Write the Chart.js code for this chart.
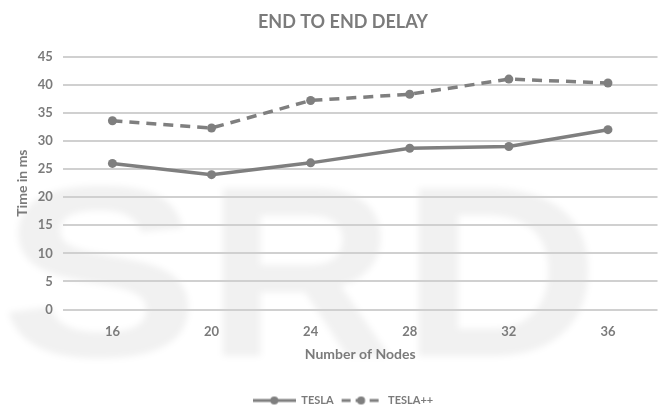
<!DOCTYPE html>
<html>
<head>
<meta charset="utf-8">
<script src="https://cdn.jsdelivr.net/npm/chart.js@4"></script>
<style>
  html, body { margin: 0; padding: 0; background: #ffffff; }
  #wrap { width: 662px; height: 412px; position: relative; }
</style>
</head>
<body>
<div id="wrap"><canvas id="c" width="662" height="412"></canvas></div>
<script>
// Node counts along the x axis
const nodes = ['16', '20', '24', '28', '32', '36'];
// End-to-end delay in ms for each protocol
const tesla = [26, 24, 26.1, 28.7, 29, 32];
const teslaPlus = [33.6, 32.3, 37.2, 38.3, 41, 40.3];
// Y axis range
const yMin = 0, yMax = 45, yStep = 5;

const lineColor = '#7f7f7f';
const textColor = '#7b7b7b';
const gridColor = '#d0d0d0';
const fontFamily = 'Lato, "Open Sans", sans-serif';

// Small line-with-marker swatch for the legend
function swatch(dashed) {
  const cv = document.createElement('canvas');
  cv.width = 43; cv.height = 10;
  const g = cv.getContext('2d');
  g.strokeStyle = lineColor;
  g.fillStyle = lineColor;
  g.lineWidth = 3;
  if (dashed) g.setLineDash([9, 5]);
  g.beginPath(); g.moveTo(dashed ? 2 : 0, 5); g.lineTo(43, 5); g.stroke();
  g.setLineDash([]);
  g.beginPath(); g.arc(21.5, 5, 4, 0, Math.PI * 2); g.fill();
  return cv;
}

// Faint, soft background lettering
const watermark = {
  id: 'watermark',
  beforeDraw(chart) {
    const ctx = chart.ctx;
    const letters = [['S', 0, 200], ['R', 205, 395], ['D', 400, 600]];
    ctx.save();
    ctx.filter = 'blur(3px)';
    ctx.fillStyle = 'rgba(0,0,0,0.055)';
    ctx.font = 'bold 244px "Liberation Sans", sans-serif';
    ctx.textBaseline = 'alphabetic';
    ctx.textAlign = 'left';
    for (const [ch, x0, x1] of letters) {
      const w = ctx.measureText(ch).width;
      ctx.save();
      ctx.translate(x0, 356);
      ctx.scale((x1 - x0) / w, 1);
      ctx.fillText(ch, 0, 0);
      ctx.restore();
    }
    ctx.restore();
  }
};

new Chart(document.getElementById('c'), {
  type: 'line',
  data: {
    labels: nodes,
    datasets: [
      {
        label: 'TESLA',
        data: tesla,
        borderColor: lineColor,
        backgroundColor: lineColor,
        borderWidth: 3.5,
        pointRadius: 4.5,
        pointBackgroundColor: lineColor,
        pointBorderWidth: 0,
        tension: 0,
        fill: false
      },
      {
        label: 'TESLA++',
        data: teslaPlus,
        borderColor: lineColor,
        backgroundColor: lineColor,
        borderWidth: 3.5,
        borderDash: [10, 7],
        pointRadius: 4.5,
        pointBackgroundColor: lineColor,
        pointBorderWidth: 0,
        tension: 0,
        fill: false
      }
    ]
  },
  options: {
    responsive: false,
    animation: false,
    devicePixelRatio: 1,
    layout: { padding: { left: 14, right: -10, top: 6, bottom: -4 } },
    plugins: {
      title: {
        display: true,
        text: 'END TO END DELAY',
        color: textColor,
        font: { family: fontFamily, size: 18, weight: 'bold' },
        padding: { top: 5, bottom: 24 }
      },
      legend: {
        display: true,
        position: 'bottom',
        labels: {
          color: textColor,
          font: { family: fontFamily, size: 11, weight: 'bold' },
          usePointStyle: true,
          pointStyleWidth: 43,
          boxHeight: 10,
          padding: 6,
          generateLabels(chart) {
            return chart.data.datasets.map((ds, i) => ({
              text: ds.label,
              pointStyle: swatch(!!ds.borderDash),
              fillStyle: lineColor,
              strokeStyle: lineColor,
              lineWidth: 0,
              fontColor: textColor,
              hidden: false,
              datasetIndex: i
            }));
          }
        }
      },
      tooltip: { enabled: false }
    },
    scales: {
      x: {
        offset: true,
        grid: { display: false, drawTicks: false },
        border: { display: false },
        ticks: {
          color: textColor,
          font: { family: fontFamily, size: 13, weight: 'bold' },
          padding: 14
        },
        title: {
          display: true,
          text: 'Number of Nodes',
          color: textColor,
          font: { family: fontFamily, size: 14, weight: 'bold' },
          padding: { top: -7, bottom: 26 }
        }
      },
      y: {
        min: yMin,
        max: yMax,
        grid: { color: gridColor, lineWidth: 2, drawTicks: false },
        border: { display: false },
        ticks: {
          stepSize: yStep,
          color: textColor,
          font: { family: fontFamily, size: 13, weight: 'bold' },
          padding: 10
        },
        title: {
          display: true,
          text: 'Time in ms',
          color: textColor,
          font: { family: fontFamily, size: 14, weight: 'bold' },
          padding: { top: 0, bottom: -3 }
        }
      }
    }
  },
  plugins: [watermark]
});
</script>
</body>
</html>
